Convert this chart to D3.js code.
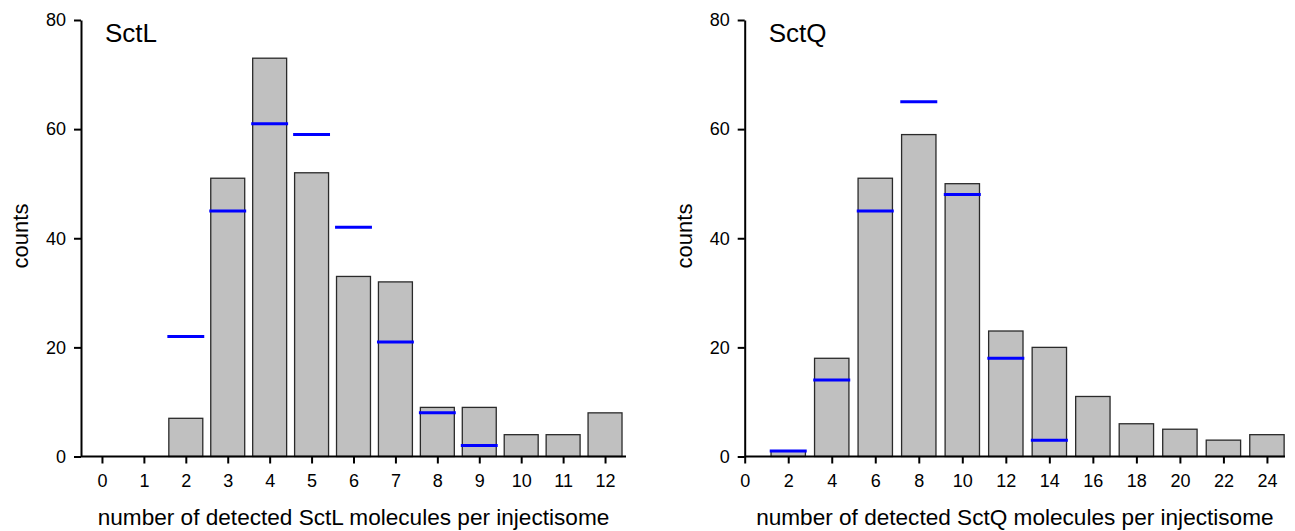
<!DOCTYPE html>
<html>
<head>
<meta charset="utf-8">
<script src="https://cdn.jsdelivr.net/npm/d3@7/dist/d3.min.js"></script>
<style>
  html, body { margin: 0; padding: 0; background: #fff; }
  svg { display: block; font-family: "Liberation Sans", Arial, sans-serif; }
</style>
</head>
<body>
<svg id="chart" width="1295" height="531"></svg>
<script>
// ---- Data ----
const sctLCategories = [0, 1, 2, 3, 4, 5, 6, 7, 8, 9, 10, 11, 12];
const sctLCounts     = [0, 0, 7, 51, 73, 52, 33, 32, 9, 9, 4, 4, 8];
const sctLModelX     = [2, 3, 4, 5, 6, 7, 8, 9];
const sctLModel      = [22, 45, 61, 59, 42, 21, 8, 2];

const sctQCategories = [2, 4, 6, 8, 10, 12, 14, 16, 18, 20, 22, 24];
const sctQCounts     = [1, 18, 51, 59, 50, 23, 20, 11, 6, 5, 3, 4];
const sctQModelX     = [2, 4, 6, 8, 10, 12, 14];
const sctQModel      = [1, 14, 45, 65, 48, 18, 3];

const yTicks = [0, 20, 40, 60, 80];
const sctLXTicks = [0, 1, 2, 3, 4, 5, 6, 7, 8, 9, 10, 11, 12];
const sctQXTicks = [0, 2, 4, 6, 8, 10, 12, 14, 16, 18, 20, 22, 24];

const svg = d3.select("#chart");

function panel(cfg) {
  const g = svg.append("g");
  const x = d3.scaleLinear().domain(cfg.xDomain).range(cfg.xRange);
  const y = d3.scaleLinear().domain([0, 80]).range([456.5, 20]);
  const unit = Math.abs(x(1) - x(0));
  const barW = cfg.barUnits * unit;
  const lineW = cfg.lineUnits * unit;

  // bars
  g.selectAll("rect.bar")
    .data(cfg.cats.map((c, i) => ({ c, v: cfg.counts[i] })).filter(d => d.v > 0))
    .join("rect")
    .attr("class", "bar")
    .attr("x", d => x(d.c) - barW / 2)
    .attr("y", d => y(d.v))
    .attr("width", barW)
    .attr("height", d => y(0) - y(d.v))
    .attr("fill", "#c0c0c0")
    .attr("stroke", "#2a2a2a")
    .attr("stroke-width", 1.3);

  // model lines
  g.selectAll("line.model")
    .data(cfg.modelX.map((c, i) => ({ c, v: cfg.model[i] })))
    .join("line")
    .attr("class", "model")
    .attr("x1", d => x(d.c) - lineW / 2)
    .attr("x2", d => x(d.c) + lineW / 2)
    .attr("y1", d => y(d.v))
    .attr("y2", d => y(d.v))
    .attr("stroke", "#0000ff")
    .attr("stroke-width", 3);

  // x axis
  const xAxis = d3.axisBottom(x)
    .tickValues(cfg.xTicks)
    .tickFormat(d3.format("d"))
    .tickSize(7)
    .tickSizeOuter(0)
    .tickPadding(11);
  const xg = g.append("g").attr("transform", `translate(0,${y(0)})`).call(xAxis);
  xg.select(".domain").attr("stroke", "#000").attr("stroke-width", 2)
    .attr("d", `M${cfg.xRange[0]},0H${cfg.xRange[1]}`);
  xg.selectAll(".tick line").attr("stroke", "#000").attr("stroke-width", 2);
  xg.selectAll(".tick text").attr("font-size", 18).attr("fill", "#000")
    .attr("font-family", "Liberation Sans, Arial, sans-serif");

  // y axis
  const yAxis = d3.axisLeft(y)
    .tickValues(yTicks)
    .tickFormat(d3.format("d"))
    .tickSize(7)
    .tickSizeOuter(0)
    .tickPadding(8);
  const yg = g.append("g").attr("transform", `translate(${cfg.xRange[0]},0)`).call(yAxis);
  yg.select(".domain").attr("stroke", "#000").attr("stroke-width", 2);
  yg.selectAll(".tick line").attr("stroke", "#000").attr("stroke-width", 2);
  yg.selectAll(".tick text").attr("font-size", 18).attr("fill", "#000")
    .attr("font-family", "Liberation Sans, Arial, sans-serif");

  // titles
  g.append("text")
    .attr("x", cfg.xRange[0] + 24)
    .attr("y", 41.5)
    .attr("font-size", 26)
    .attr("fill", "#000")
    .text(cfg.title);

  g.append("text")
    .attr("x", (cfg.xRange[0] + cfg.xRange[1]) / 2)
    .attr("y", 525)
    .attr("text-anchor", "middle")
    .attr("font-size", 22.6)
    .attr("fill", "#000")
    .text(cfg.xLabel);

  g.append("text")
    .attr("transform", `translate(${cfg.xRange[0] - 53},236) rotate(-90)`)
    .attr("text-anchor", "middle")
    .attr("font-size", 22)
    .attr("fill", "#000")
    .text("counts");
}

panel({
  cats: sctLCategories, counts: sctLCounts, modelX: sctLModelX, model: sctLModel,
  xDomain: [-0.5, 12.5], xRange: [81, 626], xTicks: sctLXTicks,
  barUnits: 0.81, lineUnits: 0.88,
  title: "SctL", xLabel: "number of detected SctL molecules per injectisome"
});

panel({
  cats: sctQCategories, counts: sctQCounts, modelX: sctQModelX, model: sctQModel,
  xDomain: [0, 24.83], xRange: [744.7, 1285], xTicks: sctQXTicks,
  barUnits: 1.58, lineUnits: 1.7,
  title: "SctQ", xLabel: "number of detected SctQ molecules per injectisome"
});
</script>
</body>
</html>
